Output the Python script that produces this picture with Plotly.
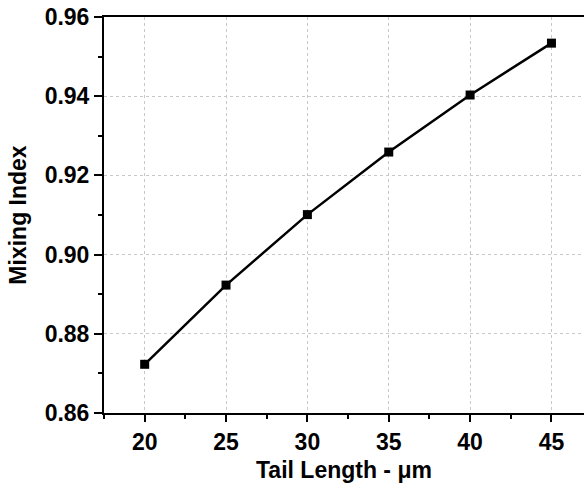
import plotly.graph_objects as go

tail_length = [20, 25, 30, 35, 40, 45]
mixing_index = [0.8723, 0.8923, 0.9101, 0.9259, 0.9403, 0.9534]
x_ticks = [20, 25, 30, 35, 40, 45]
y_ticks = [0.86, 0.88, 0.90, 0.92, 0.94, 0.96]

fig = go.Figure()
fig.add_trace(go.Scatter(
    x=tail_length, y=mixing_index, mode="lines+markers",
    line=dict(color="black", width=2.5),
    marker=dict(symbol="square", size=9, color="black"),
    showlegend=False,
))

font_family = "Liberation Sans, Arial, sans-serif"
fs = 23
fig.update_layout(
    width=584, height=489,
    margin=dict(l=104, r=0, t=17, b=76),
    plot_bgcolor="white", paper_bgcolor="white",
    font=dict(family=font_family, size=fs, color="black"),
)
fig.update_xaxes(
    range=[17.5, 47.0], tickvals=x_ticks, ticktext=[str(v) for v in x_ticks],
    ticks="outside", ticklen=7, tickwidth=2, tickcolor="black",
    minor=dict(dtick=2.5, tick0=17.5, ticks="outside", ticklen=4, tickwidth=2, tickcolor="black", showgrid=False),
    showline=True, linecolor="black", linewidth=2, mirror=True,
    showgrid=True, gridcolor="#c8c8c8", griddash="dot", gridwidth=1,
    tickfont=dict(family=font_family, size=fs, weight="bold"),
    title=dict(text="<b>Tail Length - μm</b>", font=dict(size=fs), standoff=8),
    zeroline=False, automargin=False,
)
fig.update_yaxes(
    range=[0.86, 0.96], tickvals=y_ticks, ticktext=["%.2f" % v for v in y_ticks],
    ticks="outside", ticklen=8, tickwidth=2, tickcolor="black",
    minor=dict(dtick=0.01, tick0=0.86, ticks="outside", ticklen=4, tickwidth=2, tickcolor="black", showgrid=False),
    showline=True, linecolor="black", linewidth=2, mirror=False,
    showgrid=True, gridcolor="#c8c8c8", griddash="dot", gridwidth=1,
    tickfont=dict(family=font_family, size=fs, weight="bold"),
    title=dict(text="<b>Mixing Index</b>" + "\u00a0" * 5, font=dict(size=fs), standoff=12),
    zeroline=False, automargin=False,
)
fig.write_html("out.html", config={"displayModeBar": False},
               post_script="document.body.style.margin='0';")
